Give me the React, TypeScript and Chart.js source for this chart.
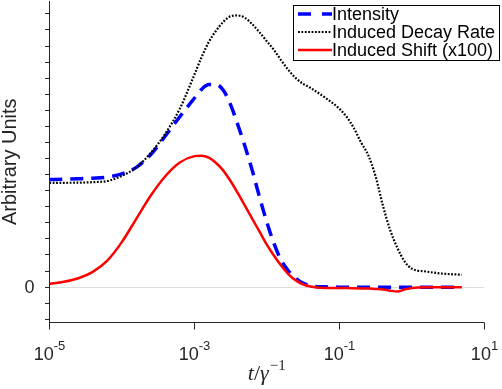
import React, { useEffect, useRef } from "react";
import { Chart, registerables } from "chart.js";

Chart.register(...registerables);

// log10 of t / gamma^-1
const log10Time = [
  -5, -4.8, -4.6, -4.4, -4.2, -4.0, -3.8, -3.6, -3.4, -3.2, -3.0, -2.9, -2.8, -2.7,
  -2.6, -2.5, -2.4, -2.3, -2.2, -2.1, -2.0, -1.9, -1.8, -1.7, -1.6, -1.5, -1.4, -1.2,
  -1.0, -0.9, -0.8, -0.7, -0.6, -0.5, -0.4, -0.3, -0.2, -0.1, 0, 0.2, 0.4, 0.69,
];

const intensity = [
  6.69, 6.71, 6.74, 6.78, 6.85, 7.05, 7.45, 8.25, 9.4, 10.6, 11.75, 12.3, 12.6, 12.6,
  12.25, 11.35, 10.1, 8.75, 7.25, 5.6, 4.05, 2.7, 1.65, 1.0, 0.55, 0.25, 0.08, 0.02,
  0.0, 0.0, 0.0, 0.0, 0.0, 0.0, 0.0, 0.0, 0.0, 0.0, 0.0, 0.0, 0.0, 0.0,
];

const decayRate = [
  6.48, 6.49, 6.5, 6.53, 6.6, 6.92, 7.45, 8.35, 9.55, 11.1, 13.2, 14.3, 15.25, 15.95,
  16.5, 16.85, 16.9, 16.75, 16.35, 15.85, 15.3, 14.75, 14.1, 13.5, 13.0, 12.65, 12.4, 11.8,
  11.1, 10.6, 9.9, 9.0, 8.2, 6.9, 5.1, 3.57, 2.45, 1.6, 1.15, 0.97, 0.85, 0.77,
];

const inducedShift = [
  0.2, 0.33, 0.55, 0.95, 1.65, 2.8, 4.25, 5.7, 6.9, 7.75, 8.15, 8.18, 8.05, 7.72,
  7.25, 6.6, 5.85, 5.05, 4.25, 3.45, 2.65, 1.95, 1.33, 0.8, 0.42, 0.17, 0.04, -0.05,
  -0.06, -0.06, -0.07, -0.08, -0.09, -0.11, -0.14, -0.22, -0.27, -0.15, -0.05, 0, 0, 0,
];

const xTickExponents = ["-5", "-3", "-1", "1"];
const yTickValues = [-2, -1, 0, 1, 2, 3, 4, 5, 6, 7, 8, 9, 10, 11, 12, 13, 14, 15, 16, 17];
const yTickLabels = ["", "", "0", "", "", "", "", "", "", "", "", "", "", "", "", "", "", "", "", ""];
const seriesLabels = ["Intensity", "Induced Decay Rate", "Induced Shift (x100)"];
const seriesColors = ["#0000ff", "#000000", "#ff0000"];

const AXIS = "#262626";
const SANS = '"Liberation Sans", Arial, Helvetica, sans-serif';
const SERIF = '"Liberation Serif", "Times New Roman", serif';

const axesPlugin = {
  id: "matlabAxes",
  beforeDatasetsDraw(chart: any) {
    const { ctx, chartArea: a, scales } = chart;
    const y0 = Math.floor(scales.y.getPixelForValue(0)) + 0.5;
    ctx.save();
    ctx.strokeStyle = "#dedede";
    ctx.lineWidth = 1;
    ctx.beginPath();
    ctx.moveTo(a.left, y0);
    ctx.lineTo(a.right, y0);
    ctx.stroke();
    ctx.restore();
  },
  afterDatasetsDraw(chart: any) {
    const { ctx, chartArea: a, scales } = chart;
    const xs = scales.x;
    const ys = scales.y;
    ctx.save();
    ctx.strokeStyle = AXIS;
    ctx.lineWidth = 1;
    const lx = Math.floor(a.left) + 0.5;
    const by = Math.floor(a.bottom) + 0.5;
    ctx.beginPath();
    ctx.moveTo(lx, a.top);
    ctx.lineTo(lx, by);
    ctx.lineTo(a.right, by);
    ctx.stroke();

    // y ticks
    ctx.fillStyle = AXIS;
    ctx.font = `18px ${SANS}`;
    ctx.textAlign = "right";
    ctx.textBaseline = "middle";
    yTickValues.forEach((v, i) => {
      const py = Math.floor(ys.getPixelForValue(v)) + 0.5;
      ctx.beginPath();
      ctx.moveTo(lx - 4.5, py);
      ctx.lineTo(lx, py);
      ctx.stroke();
      if (yTickLabels[i]) ctx.fillText(yTickLabels[i], 34.5, py + 1);
    });

    // x ticks
    xTickExponents.forEach((e) => {
      const px = Math.floor(xs.getPixelForValue(Math.pow(10, Number(e)))) + 0.5;
      ctx.beginPath();
      ctx.moveTo(px, by);
      ctx.lineTo(px, by + 7);
      ctx.stroke();
      ctx.font = `18px ${SANS}`;
      const wBase = ctx.measureText("10").width;
      ctx.font = `13px ${SANS}`;
      const wExp = ctx.measureText(e).width;
      const start = px - (wBase + wExp) / 2;
      ctx.textAlign = "left";
      ctx.textBaseline = "alphabetic";
      ctx.font = `18px ${SANS}`;
      ctx.fillText("10", start, 359.5);
      ctx.font = `13px ${SANS}`;
      ctx.fillText(e, start + wBase, 350);
    });

    // x title  t/γ^-1
    const cx = (a.left + a.right) / 2;
    ctx.font = `italic 22px ${SERIF}`;
    const wt = ctx.measureText("t").width;
    ctx.font = `22px ${SERIF}`;
    const ws = ctx.measureText("/").width;
    ctx.font = `italic 22px ${SERIF}`;
    const wg = ctx.measureText("γ").width;
    ctx.font = `15px ${SERIF}`;
    const we = ctx.measureText("−1").width;
    let tx = cx - (wt + ws + wg + we + 1) / 2;
    ctx.textAlign = "left";
    ctx.fillStyle = AXIS;
    ctx.font = `italic 22px ${SERIF}`;
    ctx.fillText("t", tx, 380);
    tx += wt;
    ctx.font = `22px ${SERIF}`;
    ctx.fillText("/", tx, 380);
    tx += ws;
    ctx.font = `italic 22px ${SERIF}`;
    ctx.fillText("γ", tx, 380);
    tx += wg + 1;
    ctx.font = `15px ${SERIF}`;
    ctx.fillText("−1", tx, 370);

    // y title
    ctx.save();
    ctx.translate(16, (a.top + a.bottom) / 2);
    ctx.rotate(-Math.PI / 2);
    ctx.textAlign = "center";
    ctx.textBaseline = "alphabetic";
    ctx.font = `20px ${SANS}`;
    ctx.fillText("Arbitrary Units", 0, 0);
    ctx.restore();

    // legend
    const bx = 293.5, byy = 5.5, bw = 206, bh = 55;
    ctx.fillStyle = "#ffffff";
    ctx.fillRect(bx, byy, bw, bh);
    ctx.strokeStyle = "#000000";
    ctx.lineWidth = 1;
    ctx.strokeRect(bx, byy, bw, bh);
    const rows = [14, 32, 50];
    chart.data.datasets.forEach((ds: any, i: number) => {
      const ry = rows[i];
      ctx.save();
      ctx.strokeStyle = ds.borderColor;
      ctx.lineWidth = ds.borderWidth;
      ctx.lineCap = "butt";
      if (i === 0) ctx.setLineDash([13, 11]);
      else if (i === 1) ctx.setLineDash(ds.borderDash);
      ctx.beginPath();
      ctx.moveTo(298, ry);
      ctx.lineTo(332, ry);
      ctx.stroke();
      ctx.restore();
      ctx.fillStyle = "#000000";
      ctx.font = `18px ${SANS}`;
      ctx.textAlign = "left";
      ctx.textBaseline = "middle";
      ctx.fillText(ds.label, 332, ry + 1);
    });
    ctx.restore();
  },
};

export default function App() {
  const canvasRef = useRef<HTMLCanvasElement | null>(null);

  useEffect(() => {
    document.body.style.margin = "0";
    const canvas = canvasRef.current;
    if (!canvas) return;
    const toPoints = (vals: number[]) =>
      log10Time.map((lt, i) => ({ x: Math.pow(10, lt), y: vals[i] }));
    const chart = new Chart(canvas, {
      type: "line",
      data: {
        datasets: [
          {
            label: seriesLabels[0],
            data: toPoints(intensity),
            borderColor: seriesColors[0],
            borderWidth: 3.5,
            borderDash: [13, 8],
            pointRadius: 0,
            cubicInterpolationMode: "monotone",
            fill: false,
            order: 3,
          },
          {
            label: seriesLabels[1],
            data: toPoints(decayRate),
            borderColor: seriesColors[1],
            borderWidth: 2.2,
            borderDash: [1.8, 1.6],
            pointRadius: 0,
            cubicInterpolationMode: "monotone",
            fill: false,
            order: 2,
          },
          {
            label: seriesLabels[2],
            data: toPoints(inducedShift),
            borderColor: seriesColors[2],
            borderWidth: 2.5,
            pointRadius: 0,
            cubicInterpolationMode: "monotone",
            fill: false,
            order: 1,
          },
        ],
      },
      options: {
        animation: false,
        responsive: false,
        maintainAspectRatio: false,
        devicePixelRatio: 1,
        layout: { padding: { left: 49.3, right: 17.7, top: 1, bottom: 66.5 } },
        plugins: { legend: { display: false }, tooltip: { enabled: false } },
        scales: {
          x: { type: "logarithmic", min: 1e-5, max: 10, display: false },
          y: { type: "linear", min: -2.2, max: 17.8, display: false },
        },
      },
      plugins: [axesPlugin],
    });
    return () => chart.destroy();
  }, []);

  return (
    <div style={{ position: "fixed", left: 0, top: 0, width: 502, height: 389, background: "#fff" }}>
      <canvas ref={canvasRef} width={502} height={389} style={{ width: 502, height: 389 }} />
    </div>
  );
}
